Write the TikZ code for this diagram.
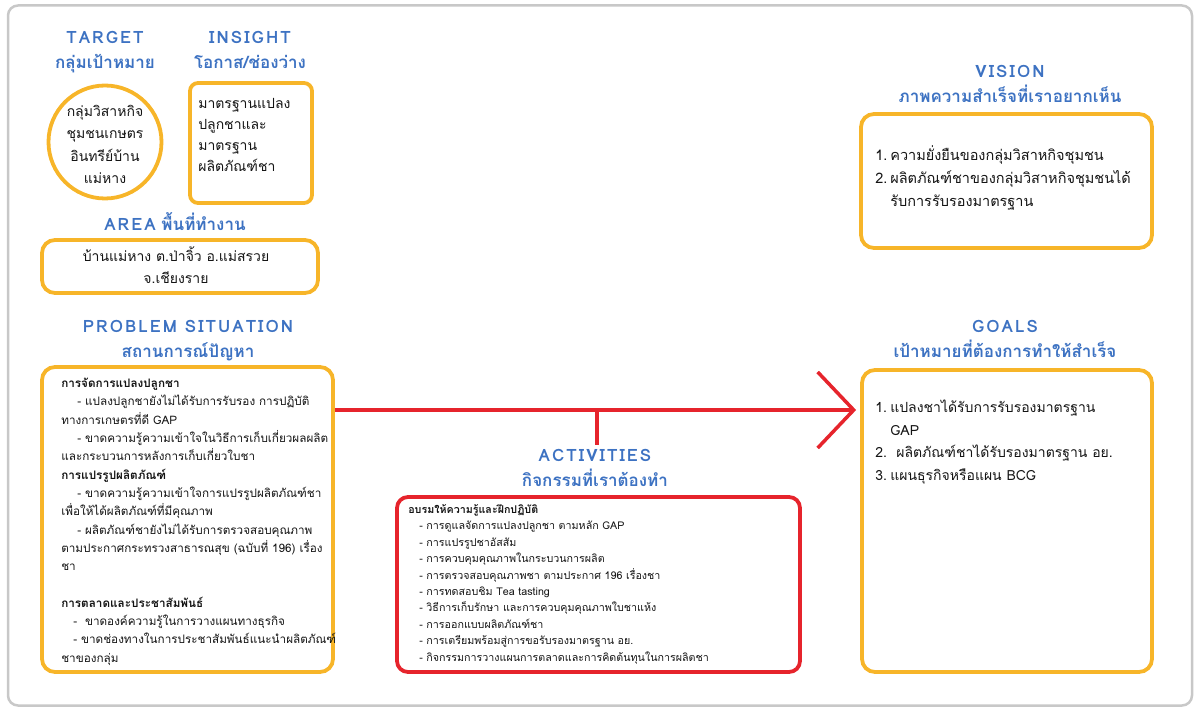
\documentclass[tikz,border=0pt]{standalone}
\usepackage{fontspec}
\newfontfamily\thaifont[Script=Thai]{Loma}
\usetikzlibrary{arrows.meta, calc}

\definecolor{headblue}{RGB}{61,114,194}
\definecolor{boxorange}{RGB}{247,181,41}
\definecolor{linered}{RGB}{230,36,44}
\definecolor{framegray}{RGB}{200,200,200}
\definecolor{bodyblack}{RGB}{20,20,20}

\newcommand\wideword[1]{{\addfontfeatures{LetterSpace=12}#1}}

\tikzset{
  heading/.style={font=\thaifont\bfseries\fontsize{17}{25}\selectfont, text=headblue, align=center, anchor=base},
  ybox/.style={draw=boxorange, line width=3.8pt, rounded corners=13pt},
  rbox/.style={draw=linered, line width=3.8pt, rounded corners=11pt},
  txt/.style={text=bodyblack, inner sep=0pt, align=left, anchor=base west},
  redline/.style={draw=linered, line width=3.5pt},
}

\begin{document}
\begin{tikzpicture}[x=1pt, y=-1pt]
  \useasboundingbox (0,0) rectangle (1200,711);
  \node[draw=framegray, line width=2.5pt, rounded corners=10pt, minimum width=1184pt, minimum height=700pt] (frame) at (600,355.5) {};

  %% TARGET
  \node[heading] (targettitle) at (105,69) {\wideword{TARGET}\\กลุ่มเป้าหมาย};
  \node[ybox, circle, minimum size=113pt] (target) at (105,142) {};
  \node[txt, anchor=base, align=center, font=\thaifont\fontsize{14}{22.3}\selectfont] (targettext) at ($(target.north)+(0,100)$) {กลุ่มวิสาหกิจ\\ชุมชนเกษตร\\อินทรีย์บ้าน\\แม่หาง};

  %% INSIGHT
  \node[heading] (insighttitle) at (250,69) {\wideword{INSIGHT}\\โอกาส/ช่องว่าง};
  \node[ybox, rounded corners=8pt, minimum width=122pt, minimum height=120pt] (insight) at (251,143) {};
  \node[txt, font=\thaifont\fontsize{14}{21}\selectfont] (insighttext) at ($(insight.north west)+(10,90.5)$) {มาตรฐานแปลง\\ปลูกชาและ\\มาตรฐาน\\ผลิตภัณฑ์ชา};

  %% AREA
  \node[heading] (areatitle) at (175,231) {\wideword{AREA} พื้นที่ทำงาน};
  \node[ybox, minimum width=276pt, minimum height=53pt] (area) at (180,266.5) {};
  \node[txt, anchor=base, align=center, font=\thaifont\fontsize{14}{21.7}\selectfont] (areatext) at ($(area.north)+(-4,45)$) {บ้านแม่หาง ต.ป่าจิ้ว อ.แม่สรวย\\จ.เชียงราย};

  %% PROBLEM SITUATION
  \node[heading] (problemtitle) at (188,358) {\wideword{PROBLEM SITUATION}\\สถานการณ์ปัญหา};
  \node[ybox, minimum width=291pt, minimum height=305pt] (problem) at (187.5,519.5) {};
  \node[txt, font=\thaifont\fontsize{11.7}{18.3}\selectfont] (problemtext) at ($(problem.north west)+(21,297)$) {%
    \textbf{การจัดการแปลงปลูกชา}\\
    \hspace*{16pt}- แปลงปลูกชายังไม่ได้รับการรับรอง การปฏิบัติ\\
    ทางการเกษตรที่ดี GAP\\
    \hspace*{16pt}- ขาดความรู้ความเข้าใจในวิธีการเก็บเกี่ยวผลผลิต\\
    และกระบวนการหลังการเก็บเกี่ยวใบชา\\
    \textbf{การแปรรูปผลิตภัณฑ์}\\
    \hspace*{16pt}- ขาดความรู้ความเข้าใจการแปรรูปผลิตภัณฑ์ชา\\
    เพื่อให้ได้ผลิตภัณฑ์ที่มีคุณภาพ\\
    \hspace*{16pt}- ผลิตภัณฑ์ชายังไม่ได้รับการตรวจสอบคุณภาพ\\
    ตามประกาศกระทรวงสาธารณสุข (ฉบับที่ 196) เรื่อง\\
    ชา\\
    \mbox{}\\
    \textbf{การตลาดและประชาสัมพันธ์}\\
    \hspace*{12pt}-\ \ ขาดองค์ความรู้ในการวางแผนทางธุรกิจ\\
    \hspace*{12pt}- ขาดช่องทางในการประชาสัมพันธ์แนะนำผลิตภัณฑ์\\
    ชาของกลุ่ม};

  %% ACTIVITIES
  \node[heading] (activitiestitle) at (595,486) {\wideword{ACTIVITIES}\\กิจกรรมที่เราต้องทำ};
  \node[rbox, minimum width=403pt, minimum height=175pt] (activities) at (598.5,584.5) {};
  \node[txt, font=\thaifont\fontsize{10.7}{16.4}\selectfont] (activitiestext) at ($(activities.north west)+(13,166)$) {%
    \textbf{อบรมให้ความรู้และฝึกปฏิบัติ}\\
    \hspace*{11pt}- การดูแลจัดการแปลงปลูกชา ตามหลัก GAP\\
    \hspace*{11pt}- การแปรรูปชาอัสสัม\\
    \hspace*{11pt}- การควบคุมคุณภาพในกระบวนการผลิต\\
    \hspace*{11pt}- การตรวจสอบคุณภาพชา ตามประกาศ 196 เรื่องชา\\
    \hspace*{11pt}- การทดสอบชิม Tea tasting\\
    \hspace*{11pt}- วิธีการเก็บรักษา และการควบคุมคุณภาพใบชาแห้ง\\
    \hspace*{11pt}- การออกแบบผลิตภัณฑ์ชา\\
    \hspace*{11pt}- การเตรียมพร้อมสู่การขอรับรองมาตรฐาน อย.\\
    \hspace*{11pt}- กิจกรรมการวางแผนการตลาดและการคิดต้นทุนในการผลิตชา};

  %% VISION
  \node[heading] (visiontitle) at (1010,103) {\wideword{VISION}\\ภาพความสำเร็จที่เราอยากเห็น};
  \node[ybox, minimum width=291pt, minimum height=134pt] (vision) at (1006.5,181) {};
  \node[txt, font=\thaifont\fontsize{14.5}{23}\selectfont] (visiontext) at ($(vision.north west)+(16,94)$) {%
    \makebox[15pt][l]{1.}ความยั่งยืนของกลุ่มวิสาหกิจชุมชน\\
    \makebox[15pt][l]{2.}ผลิตภัณฑ์ชาของกลุ่มวิสาหกิจชุมชนได้\\
    \hspace*{15pt}รับการรับรองมาตรฐาน};

  %% GOALS
  \node[heading] (goalstitle) at (1005,358) {\wideword{GOALS}\\เป้าหมายที่ต้องการทำให้สำเร็จ};
  \node[ybox, minimum width=290pt, minimum height=302pt] (goals) at (1007,521) {};
  \node[txt, font=\thaifont\fontsize{14}{22.5}\selectfont] (goalstext) at ($(goals.north west)+(15,112)$) {%
    \makebox[15pt][l]{1.}แปลงชาได้รับการรับรองมาตรฐาน\\
    \hspace*{15pt}GAP\\
    \makebox[21pt][l]{2.}ผลิตภัณฑ์ชาได้รับรองมาตรฐาน อย.\\
    \makebox[15pt][l]{3.}แผนธุรกิจหรือแผน BCG};

  %% arrow problem -> goals, branch from activities
  \coordinate (fork) at (597,410);
  \draw[redline, -{Straight Barb[length=36pt, width=76pt]}, shorten >=4pt] (problem.east |- fork) -- (goals.west |- fork);
  \draw[redline] (fork) -- (fork |- activitiestitle.north);
\end{tikzpicture}
\end{document}
